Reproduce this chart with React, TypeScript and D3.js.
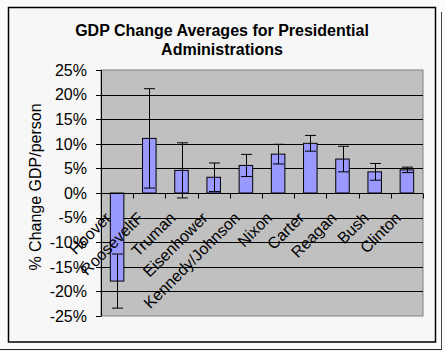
import { useEffect, useRef } from "react";
import * as d3 from "d3";

// Datos
const presidentes = [
  "Hoover",
  "RooseveltF",
  "Truman",
  "Eisenhower",
  "Kennedy/Johnson",
  "Nixon",
  "Carter",
  "Reagan",
  "Bush",
  "Clinton",
];
const cambioPromedio = [-17.9, 11.1, 4.6, 3.2, 5.6, 7.9, 10.1, 6.9, 4.3, 4.7];
const errorBarra = [5.5, 10.1, 5.6, 2.9, 2.25, 2.0, 1.6, 2.6, 1.7, 0.55];
const ticksY = [-25, -20, -15, -10, -5, 0, 5, 10, 15, 20, 25];
const tituloLineas = ["GDP Change Averages for Presidential", "Administrations"];
const tituloEjeY = "% Change GDP/person";

const FUENTE = "Arial, 'Liberation Sans', sans-serif";

const App = () => {
  const svgRef = useRef<SVGSVGElement | null>(null);

  useEffect(() => {
    if (!svgRef.current) return;
    const svg = d3.select(svgRef.current);
    svg.selectAll("*").remove();

    const W = 445;
    const H = 351;
    const plot = { left: 101, right: 423, top: 70, bottom: 316 };

    // Fondo y marcos
    svg.append("rect").attr("width", W).attr("height", H).attr("fill", "#fbfbfb");
    svg.append("line")
      .attr("x1", 0).attr("x2", 442).attr("y1", 349.5).attr("y2", 349.5)
      .attr("stroke", "#222").attr("stroke-width", 1);
    svg.append("line")
      .attr("x1", 441.5).attr("x2", 441.5).attr("y1", 12).attr("y2", 350)
      .attr("stroke", "#444").attr("stroke-width", 1);
    svg.append("rect")
      .attr("x", 8.5).attr("y", 7.5).attr("width", 427).attr("height", 334.5)
      .attr("fill", "#f7f7f7").attr("stroke", "#000").attr("stroke-width", 1.5);

    // Escalas
    const x = d3.scaleBand<string>()
      .domain(presidentes)
      .range([plot.left, plot.right])
      .padding(0);
    const y = d3.scaleLinear().domain([-25, 25]).range([plot.bottom, plot.top]);
    const anchoBarra = x.bandwidth() * 0.42;
    const anchoTapa = 11;

    // Área del gráfico
    svg.append("rect")
      .attr("x", plot.left).attr("y", plot.top)
      .attr("width", plot.right - plot.left).attr("height", plot.bottom - plot.top)
      .attr("fill", "#c0c0c0").attr("stroke", "#808080").attr("stroke-width", 1);

    // Grid horizontal
    svg.append("g")
      .selectAll("line")
      .data(ticksY.filter((t) => t !== 0 && Math.abs(t) !== 25))
      .enter()
      .append("line")
      .attr("x1", plot.left).attr("x2", plot.right)
      .attr("y1", (d) => Math.round(y(d)) + 0.5)
      .attr("y2", (d) => Math.round(y(d)) + 0.5)
      .attr("stroke", "#000").attr("stroke-width", 1);

    // Barras
    const datos = presidentes.map((p, i) => ({
      nombre: p,
      valor: cambioPromedio[i],
      error: errorBarra[i],
    }));

    svg.append("g")
      .selectAll("rect")
      .data(datos)
      .enter()
      .append("rect")
      .attr("x", (d) => (x(d.nombre) ?? 0) + (x.bandwidth() - anchoBarra) / 2)
      .attr("y", (d) => y(Math.max(0, d.valor)))
      .attr("width", anchoBarra)
      .attr("height", (d) => Math.abs(y(d.valor) - y(0)))
      .attr("fill", "#9999ff")
      .attr("stroke", "#000")
      .attr("stroke-width", 1);

    // Barras de error
    const errores = svg.append("g").attr("stroke", "#000").attr("stroke-width", 1);
    datos.forEach((d) => {
      const cx = Math.round((x(d.nombre) ?? 0) + x.bandwidth() / 2) + 0.5;
      const yAlto = y(d.valor + d.error);
      const yBajo = y(d.valor - d.error);
      errores.append("line").attr("x1", cx).attr("x2", cx).attr("y1", yAlto).attr("y2", yBajo);
      errores.append("line")
        .attr("x1", cx - anchoTapa / 2).attr("x2", cx + anchoTapa / 2)
        .attr("y1", yAlto).attr("y2", yAlto);
      errores.append("line")
        .attr("x1", cx - anchoTapa / 2).attr("x2", cx + anchoTapa / 2)
        .attr("y1", yBajo).attr("y2", yBajo);
    });

    // Eje X en 0%
    const y0 = Math.round(y(0)) + 0.5;
    svg.append("line")
      .attr("x1", plot.left).attr("x2", plot.right)
      .attr("y1", y0).attr("y2", y0)
      .attr("stroke", "#000").attr("stroke-width", 1);
    const limites = presidentes.map((p) => (x(p) ?? 0) + x.bandwidth());
    svg.append("g")
      .selectAll("line")
      .data(limites)
      .enter()
      .append("line")
      .attr("x1", (d) => Math.round(d) + 0.5).attr("x2", (d) => Math.round(d) + 0.5)
      .attr("y1", y0).attr("y2", y0 + 5)
      .attr("stroke", "#000").attr("stroke-width", 1);

    // Etiquetas de categorías
    svg.append("g")
      .selectAll("text")
      .data(presidentes)
      .enter()
      .append("text")
      .attr("transform", (d) => {
        const cx = (x(d) ?? 0) + x.bandwidth() / 2 - 5;
        return `translate(${cx},219) rotate(-45)`;
      })
      .attr("text-anchor", "end")
      .style("font-family", FUENTE)
      .style("font-size", "16px")
      .style("fill", "#000")
      .text((d) => d);

    // Eje Y
    svg.append("line")
      .attr("x1", plot.left + 0.5).attr("x2", plot.left + 0.5)
      .attr("y1", plot.top).attr("y2", plot.bottom)
      .attr("stroke", "#000").attr("stroke-width", 1);
    const ejeY = svg.append("g");
    ejeY.selectAll("line")
      .data(ticksY)
      .enter()
      .append("line")
      .attr("x1", plot.left - 5).attr("x2", plot.left + 0.5)
      .attr("y1", (d) => Math.round(y(d)) + 0.5)
      .attr("y2", (d) => Math.round(y(d)) + 0.5)
      .attr("stroke", "#000").attr("stroke-width", 1);
    ejeY.selectAll("text")
      .data(ticksY)
      .enter()
      .append("text")
      .attr("x", 87)
      .attr("y", (d) => y(d))
      .attr("dy", "0.36em")
      .attr("text-anchor", "end")
      .style("font-family", FUENTE)
      .style("font-size", "16px")
      .style("fill", "#000")
      .text((d) => `${d}%`);

    // Título del eje Y
    svg.append("text")
      .attr("transform", "translate(41,187) rotate(-90)")
      .attr("text-anchor", "middle")
      .style("font-family", FUENTE)
      .style("font-size", "16px")
      .style("fill", "#000")
      .text(tituloEjeY);

    // Título
    svg.append("g")
      .selectAll("text")
      .data(tituloLineas)
      .enter()
      .append("text")
      .attr("x", 222)
      .attr("y", (d, i) => 36 + i * 19)
      .attr("text-anchor", "middle")
      .style("font-family", FUENTE)
      .style("font-size", "16px")
      .style("font-weight", "bold")
      .style("fill", "#000")
      .text((d) => d);
  }, []);

  return (
    <svg
      ref={svgRef}
      width={445}
      height={351}
      style={{ position: "absolute", left: 0, top: 0 }}
    />
  );
};

export default App;
